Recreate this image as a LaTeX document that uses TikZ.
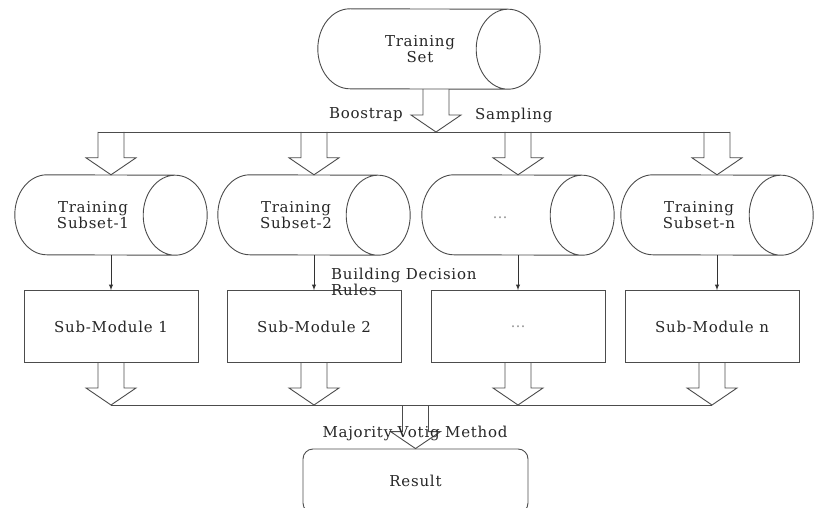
\documentclass[tikz,border=0pt]{standalone}
\usepackage{fontspec}
\setmainfont{DejaVu Serif}[LetterSpace=5]
\usepackage{tikz}
\usetikzlibrary{positioning, arrows, calc}
\tikzstyle{thinarr} = [draw=black!80, line width=0.9pt, ->, >=latex]
\tikzstyle{fat} = [draw=black!70, line width=0.9pt]

\newcommand{\fatdown}[2]{%
  \draw[fat] let \p1=(#1), \p2=(#2) in
    (\x2-13pt,\y1) -- (\x2-13pt,\y2+17pt) -- (\x2-25pt,\y2+17pt) -- (\x2,\y2)
    -- (\x2+25pt,\y2+17pt) -- (\x2+13pt,\y2+17pt) -- (\x2+13pt,\y1);}

% lying cylinder round a node
\newcommand{\drumshape}[1]{%
  \draw[fat] ([xshift=32pt]#1.north west) arc[start angle=90, end angle=270, x radius=32pt, y radius=40pt]
    -- ([xshift=-32pt]#1.south east) arc[start angle=-90, end angle=90, x radius=32pt, y radius=40pt] -- cycle
    ([xshift=-32pt]#1.south east) arc[start angle=-90, end angle=-270, x radius=32pt, y radius=40pt];}

\begin{document}
\begin{tikzpicture}[x=1pt, y=-1pt,
    every node/.style={font=\fontsize{15}{16}\selectfont, text=black!85},
    drum/.style={inner sep=0pt, minimum width=192pt, minimum height=80pt},
    drumtxt/.style={align=center, xshift=-18pt},
    modbox/.style={draw=black!70, line width=0.9pt, minimum width=174pt, minimum height=72pt},
    tag/.style={inner sep=0pt}
  ]
  \useasboundingbox (0,0) rectangle (814,508);

  \node[drum, minimum width=222pt, label={[drumtxt, xshift=9pt]center:Training\\Set}] (set) at (429,49) {};
  \drumshape{set}
  \coordinate (split) at (436,132);
  \fatdown{set.south -| split}{split}
  \node[tag, anchor=east] (bs) at (403,115) {Boostrap};
  \node[tag, anchor=west] (sm) at (475,115) {Sampling};

  \node[drum, label={[drumtxt]center:Training\\Subset-1}] (c1) at (111,215) {};
  \node[drum, label={[drumtxt]center:Training\\Subset-2}] (c2) at (314,215) {};
  \node[drum, label={[drumtxt, text=black!40, yshift=-3pt]center:\ldots}] (c3) at (518,215) {};
  \node[drum, label={[drumtxt]center:Training\\Subset-n}] (c4) at (717,215) {};
  \foreach \i in {1,...,4} \drumshape{c\i};

  \draw[fat] ([xshift=-13pt]split -| c1) -- ([xshift=13pt]split -| c4);
  \foreach \i in {1,...,4} \fatdown{split -| c\i}{c\i.north};

  \node[modbox, below=35pt of c1] (b1) {Sub-Module 1};
  \node[modbox, below=35pt of c2] (b2) {Sub-Module 2};
  \node[modbox, below=35pt of c3] (b3) {\textcolor{black!40}{\ldots}};
  \node[modbox, below=35pt of c4, xshift=-5pt] (b4) {Sub-Module n};

  \foreach \i in {1,...,4} \draw[thinarr] (c\i.south) -- (c\i.south |- b\i.north);
  \node[tag, anchor=north west, align=left] (bdr) at (331,268) {Building Decision\\Rules};

  \coordinate (join) at (416,405);
  \foreach \i in {1,...,4} \fatdown{b\i.south}{b\i.south |- join};
  \draw[fat] (b1.south |- join) -- (b4.south |- join);

  \node[draw=black!70, line width=0.9pt, rounded corners=10pt, minimum width=225pt,
    minimum height=64pt] (res) at (415.5,481) {Result};
  \fatdown{join}{res.north}
  \node[tag] (mvm) at (415,433) {Majority Votig Method};
\end{tikzpicture}
\end{document}
